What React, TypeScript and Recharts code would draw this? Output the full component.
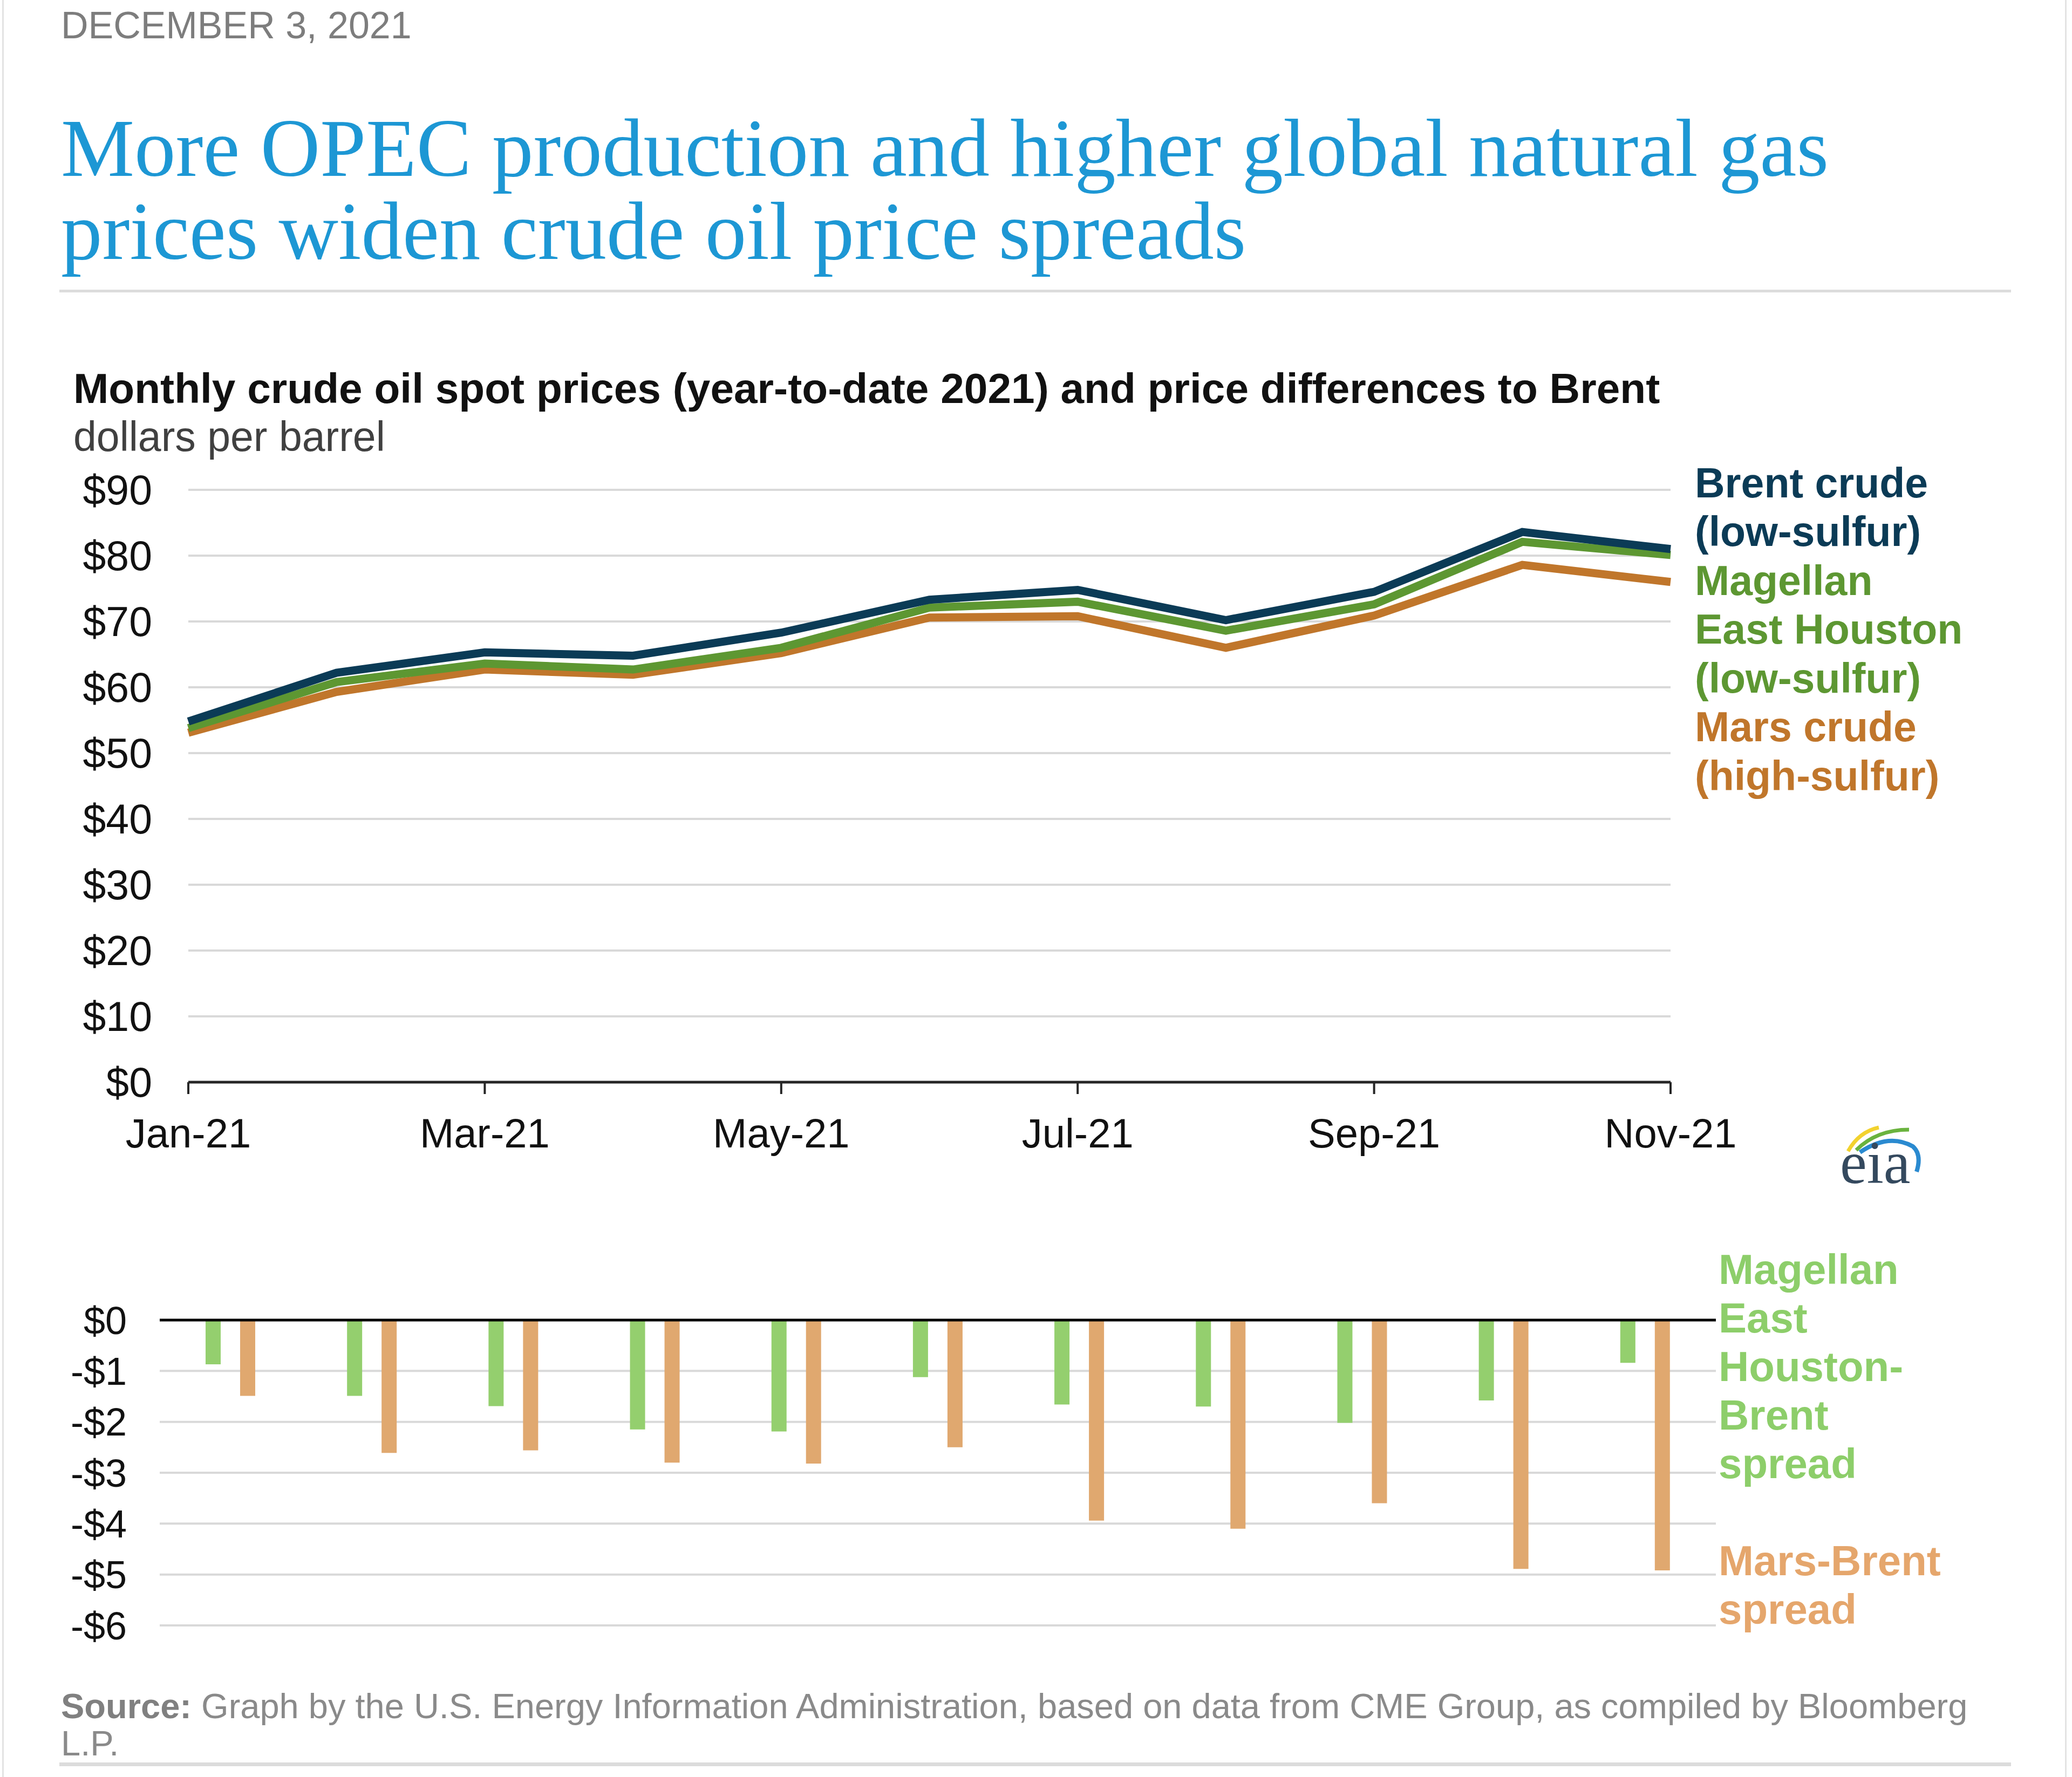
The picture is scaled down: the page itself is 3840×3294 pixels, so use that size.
import React from "react";
import {
  LineChart,
  Line,
  BarChart,
  Bar,
  XAxis,
  YAxis,
  CartesianGrid,
  ReferenceLine,
} from "recharts";

// monthly spot prices, dollars per barrel
const months = [
  "Jan-21", "Feb-21", "Mar-21", "Apr-21", "May-21", "Jun-21",
  "Jul-21", "Aug-21", "Sep-21", "Oct-21", "Nov-21",
];
const brent = [54.8, 62.2, 65.3, 64.8, 68.3, 73.3, 74.8, 70.2, 74.5, 83.6, 81.0];
const meh = [53.8, 60.8, 63.6, 62.7, 66.0, 72.1, 73.0, 68.6, 72.6, 82.1, 80.1];
const mars = [53.1, 59.3, 62.7, 61.9, 65.2, 70.6, 70.8, 66.0, 70.9, 78.6, 76.0];

// price differences to Brent
const mehSpread = [-0.87, -1.49, -1.69, -2.15, -2.19, -1.12, -1.66, -1.7, -2.02, -1.58, -0.84];
const marsSpread = [-1.49, -2.61, -2.56, -2.8, -2.82, -2.5, -3.94, -4.1, -3.6, -4.89, -4.92];

const priceTicks = [0, 10, 20, 30, 40, 50, 60, 70, 80, 90];
const spreadTicks = [-6, -5, -4, -3, -2, -1, 0];

const priceData = months.map((m, i) => ({
  month: m,
  brent: brent[i],
  meh: meh[i],
  mars: mars[i],
}));

const spreadData = months.map((m, i) => ({
  month: m,
  meh: mehSpread[i],
  mars: marsSpread[i],
}));

const SANS = "'Liberation Sans', Arial, sans-serif";
const SERIF = "'Liberation Serif', 'Times New Roman', serif";

const BRENT = "#0b3b56";
const MEH = "#5d9732";
const MARS = "#c0762b";
const MEH_BAR = "#94cf6e";
const MARS_BAR = "#e0a86f";

export default function App() {
  return (
    <div
      style={{
        position: "absolute",
        left: 0,
        top: 0,
        width: 3840,
        height: 3294,
        background: "#fff",
        fontFamily: SANS,
        overflow: "hidden",
      }}
    >
      <div style={{ position: "absolute", left: 0, top: 850 }}>
        <LineChart
          width={3300}
          height={1350}
          data={priceData}
          margin={{ top: 58, right: 204, bottom: 44, left: 149 }}
        >
          <CartesianGrid vertical={false} stroke="#d9d9d9" strokeWidth={4} />
          <XAxis
            dataKey="month"
            scale="point"
            interval={1}
            height={150}
            tickSize={22}
            tickMargin={45}
            axisLine={{ stroke: "#262626", strokeWidth: 5 }}
            tickLine={{ stroke: "#262626", strokeWidth: 4 }}
            tick={{ fill: "#111", fontSize: 76, fontFamily: SANS }}
          />
          <YAxis
            width={200}
            domain={[0, 90]}
            ticks={priceTicks}
            axisLine={false}
            tickLine={false}
            tickSize={0}
            tickMargin={67}
            tickFormatter={(v: number) => `$${v}`}
            tick={{ fill: "#111", fontSize: 77, fontFamily: SANS }}
          />
          <Line
            dataKey="mars"
            stroke={MARS}
            strokeWidth={15}
            dot={false}
            activeDot={false}
            isAnimationActive={false}
          />
          <Line
            dataKey="meh"
            stroke={MEH}
            strokeWidth={15}
            dot={false}
            activeDot={false}
            isAnimationActive={false}
          />
          <Line
            dataKey="brent"
            stroke={BRENT}
            strokeWidth={15}
            dot={false}
            activeDot={false}
            isAnimationActive={false}
          />
        </LineChart>
      </div>

      <div style={{ position: "absolute", left: 0, top: 2400 }}>
        <BarChart
          width={3300}
          height={700}
          data={spreadData}
          barGap={36}
          margin={{ top: 47, right: 120, bottom: 87, left: 96 }}
        >
          <CartesianGrid vertical={false} stroke="#d9d9d9" strokeWidth={4} />
          <XAxis dataKey="month" hide />
          <YAxis
            width={200}
            domain={[-6, 0]}
            ticks={spreadTicks}
            axisLine={false}
            tickLine={false}
            tickSize={0}
            tickMargin={61}
            tickFormatter={(v: number) => (v === 0 ? "$0" : `-$${-v}`)}
            tick={{ fill: "#111", fontSize: 72, fontFamily: SANS }}
          />
          <Bar dataKey="meh" fill={MEH_BAR} barSize={28} isAnimationActive={false} />
          <Bar dataKey="mars" fill={MARS_BAR} barSize={28} isAnimationActive={false} />
          <ReferenceLine y={0} stroke="#000" strokeWidth={5} />
        </BarChart>
      </div>

      <svg
        width={3840}
        height={3294}
        style={{ position: "absolute", left: 0, top: 0, pointerEvents: "none" }}
      >
        {/* page frame and rules */}
        <rect x={4} y={0} width={3} height={3294} fill="#e3e3e3" />
        <rect x={3827} y={0} width={3} height={3294} fill="#e3e3e3" />
        <rect x={110} y={537} width={3617} height={5} fill="#dcdcdc" />
        <rect x={110} y={3267} width={3617} height={7} fill="#dcdcdc" />

        <text x={113} y={71} fontFamily={SANS} fontSize={70} fill="#7d7d7d">
          DECEMBER 3, 2021
        </text>
        <text fontFamily={SERIF} fontSize={153} fill="#1d97d4">
          <tspan x={113} y={326}>More OPEC production and higher global natural gas</tspan>
          <tspan x={113} y={480}>prices widen crude oil price spreads</tspan>
        </text>

        <text x={136} y={747} fontFamily={SANS} fontSize={78.4} fontWeight="bold" fill="#111">
          Monthly crude oil spot prices (year-to-date 2021) and price differences to Brent
        </text>
        <text x={136} y={836} fontFamily={SANS} fontSize={77} fill="#404040">
          dollars per barrel
        </text>

        {/* price legend */}
        <text fontFamily={SANS} fontSize={77} fontWeight="bold">
          <tspan x={3141} y={922} fill={BRENT}>Brent crude</tspan>
          <tspan x={3141} y={1012} fill={BRENT}>(low-sulfur)</tspan>
          <tspan x={3141} y={1103} fill={MEH}>Magellan</tspan>
          <tspan x={3141} y={1193} fill={MEH}>East Houston</tspan>
          <tspan x={3141} y={1284} fill={MEH}>(low-sulfur)</tspan>
          <tspan x={3141} y={1374} fill={MARS}>Mars crude</tspan>
          <tspan x={3141} y={1465} fill={MARS}>(high-sulfur)</tspan>
        </text>

        {/* spread legend */}
        <text fontFamily={SANS} fontSize={78} fontWeight="bold">
          <tspan x={3185} y={2380} fill="#8dce6a">Magellan</tspan>
          <tspan x={3185} y={2470} fill="#8dce6a">East</tspan>
          <tspan x={3185} y={2560} fill="#8dce6a">Houston-</tspan>
          <tspan x={3185} y={2650} fill="#8dce6a">Brent</tspan>
          <tspan x={3185} y={2740} fill="#8dce6a">spread</tspan>
          <tspan x={3185} y={2920} fill="#e5a66c">Mars-Brent</tspan>
          <tspan x={3185} y={3010} fill="#e5a66c">spread</tspan>
        </text>

        {/* eia logo */}
        <path d="M3425 2134 Q3445 2098 3482 2090" stroke="#f2d22e" strokeWidth={7} fill="none" />
        <path d="M3440 2132 Q3478 2094 3538 2094" stroke="#6ab33e" strokeWidth={7} fill="none" />
        <path d="M3447 2136 Q3500 2100 3545 2125 Q3562 2140 3552 2172" stroke="#2a8ad0" strokeWidth={8} fill="none" />
        <text x={3410} y={2193} fontFamily={SERIF} fontSize={112} fill="#34495e">
          eia
        </text>

        <text fontFamily={SANS} fontSize={65} fill="#8a8a8a">
          <tspan x={113} y={3185} fontWeight="bold" fill="#808080">Source:</tspan>
          <tspan> Graph by the U.S. Energy Information Administration, based on data from CME Group, as compiled by Bloomberg</tspan>
          <tspan x={113} y={3254}>L.P.</tspan>
        </text>
      </svg>
    </div>
  );
}
